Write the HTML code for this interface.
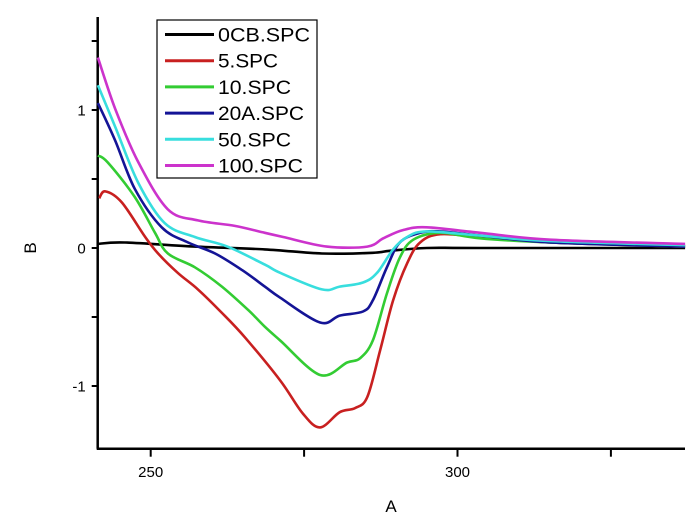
<!DOCTYPE html>
<html><head><meta charset="utf-8"><style>
html,body{margin:0;padding:0;background:#fff;}
svg{display:block;font-family:"Liberation Sans",Arial,sans-serif;}
</style></head><body>
<svg id="chart" width="691" height="523" viewBox="0 0 691 523" xmlns="http://www.w3.org/2000/svg">
<g id="axes"></g>
<g id="series"></g>
<g id="legend"></g>
</svg>
<script>
const seriesNames = ["0CB.SPC","5.SPC","10.SPC","20A.SPC","50.SPC","100.SPC"];
const seriesColors = ["#000000","#c82020","#33cc33","#141496","#38dede","#cc33cc"];
const xBlack = [241.4,245.8,257.2,268.6,277.9,286.2,289.0,295.0,303.7,337.1];
const yBlack = [0.03,0.04,0.01,-0.01,-0.04,-0.035,-0.02,0.0,0.0,0.0];
const xRed = [241.6,242.6,245.3,249.1,251.2,254.4,257.7,261.6,265.4,271.1,274.8,277.6,280.8,283.3,285.3,287.4,289.5,291.8,293.9,297.2,303.7,315.1,337.1];
const yRed = [0.36,0.41,0.33,0.08,-0.04,-0.18,-0.30,-0.47,-0.65,-0.96,-1.20,-1.30,-1.19,-1.16,-1.08,-0.74,-0.38,-0.11,0.04,0.10,0.08,0.04,0.01];
const xGreen = [241.4,243.0,247.4,250.7,252.8,257.2,261.6,265.9,268.6,271.1,277.6,282.0,284.1,286.2,288.5,290.6,292.8,297.2,303.7,315.1,337.1];
const yGreen = [0.67,0.62,0.37,0.11,-0.04,-0.14,-0.28,-0.45,-0.57,-0.67,-0.92,-0.83,-0.80,-0.67,-0.33,-0.07,0.06,0.11,0.07,0.04,0.01];
const xBlue = [241.4,244.2,247.4,251.8,256.1,260.5,264.9,268.6,271.1,277.6,280.8,284.6,286.2,288.5,290.6,293.9,297.2,303.7,315.1,337.1];
const yBlue = [1.05,0.78,0.43,0.15,0.04,-0.04,-0.16,-0.28,-0.36,-0.54,-0.49,-0.46,-0.38,-0.14,0.04,0.11,0.12,0.09,0.04,0.01];
const xCyan = [241.4,244.2,248.0,252.3,257.2,262.5,268.6,271.1,277.9,280.8,284.6,286.9,289.5,291.8,295.0,303.7,315.1,337.1];
const yCyan = [1.18,0.88,0.47,0.18,0.08,0.01,-0.12,-0.18,-0.30,-0.28,-0.25,-0.18,-0.01,0.08,0.12,0.09,0.05,0.02];
const xMag = [241.4,244.2,248.0,252.8,257.7,263.7,268.6,271.6,278.7,285.3,287.9,291.1,295.0,303.7,315.1,337.1];
const yMag = [1.38,1.01,0.62,0.28,0.20,0.16,0.11,0.08,0.01,0.01,0.07,0.13,0.15,0.11,0.06,0.03];
const xTicks = [250,275,300,325];
const xTickLabels = ["250","","300",""];
const yTicks = [-1,-0.5,0,0.5,1,1.5];
const yTickLabels = ["-1","","0","","1",""];

const NS="http://www.w3.org/2000/svg";
const X0=97.7, X1=685, Y0=448.7, YT=17;
function xs(v){return 150.7+(v-250)*6.136;}
function ys(v){return 248-v*138;}
function mk(t,a,p){const e=document.createElementNS(NS,t);for(const k in a)e.setAttribute(k,a[k]);p.appendChild(e);return e;}
const axes=document.getElementById('axes');
let e;
e=mk('line',{x1:X0,y1:YT,x2:X0,y2:Y0,stroke:'#000','stroke-width':2.5},axes);


e=mk('line',{x1:X0-1,y1:Y0,x2:X1,y2:Y0,stroke:'#000','stroke-width':2.5},axes);


xTicks.forEach((t,i)=>{
  const tk=mk('line',{x1:xs(t),y1:Y0,x2:xs(t),y2:Y0+8,stroke:'#000','stroke-width':2},axes);
  
  
  if(xTickLabels[i]){
    const tx=mk('text',{x:xs(t),y:477,'text-anchor':'middle','font-size':15,fill:'#000'},axes);
    tx.textContent=xTickLabels[i];
    
    
  }
});
yTicks.forEach((t,i)=>{
  const tk=mk('line',{x1:X0-6,y1:ys(t),x2:X0,y2:ys(t),stroke:'#000','stroke-width':2},axes);
  
  
  if(yTickLabels[i]){
    const tx=mk('text',{x:X0-12,y:ys(t)+5.5,'text-anchor':'end','font-size':15,fill:'#000'},axes);
    tx.textContent=yTickLabels[i];
    
    
  }
});
e=mk('text',{x:391,y:512,'text-anchor':'middle','font-size':17,fill:'#000'},axes);
e.textContent='A';


e=mk('text',{x:0,y:0,'text-anchor':'middle','font-size':17,fill:'#000',transform:'translate(36,248) rotate(-90)'},axes);
e.textContent='B';



function pathFrom(xa,ya){
  const p=xa.map((x,i)=>[xs(x),ys(ya[i])]);
  let d='M'+p[0][0].toFixed(1)+','+p[0][1].toFixed(1);
  for(let i=0;i<p.length-1;i++){
    const p0=p[Math.max(0,i-1)],p1=p[i],p2=p[i+1],p3=p[Math.min(p.length-1,i+2)];
    const c1=[p1[0]+(p2[0]-p0[0])/6,p1[1]+(p2[1]-p0[1])/6];
    const c2=[p2[0]-(p3[0]-p1[0])/6,p2[1]-(p3[1]-p1[1])/6];
    d+='C'+c1[0].toFixed(1)+','+c1[1].toFixed(1)+' '+c2[0].toFixed(1)+','+c2[1].toFixed(1)+' '+p2[0].toFixed(1)+','+p2[1].toFixed(1);
  }
  return d;
}
const allX=[xBlack,xRed,xGreen,xBlue,xCyan,xMag];
const allY=[yBlack,yRed,yGreen,yBlue,yCyan,yMag];
const sg=document.getElementById('series');
const names=['series-0cb','series-5','series-10','series-20a','series-50','series-100'];
[0,1,2,3,4,5].forEach(i=>{
  const pth=mk('path',{d:pathFrom(allX[i],allY[i]),fill:'none',stroke:seriesColors[i],'stroke-width':2.6,'stroke-linejoin':'round'},sg);
  
  
});
const legendWidths=[92,60,73,86,73,85];
const lg=document.getElementById('legend');
e=mk('rect',{x:157,y:20,width:160,height:158,fill:'#fff',stroke:'#000','stroke-width':1.2},lg);


seriesNames.forEach((n,i)=>{
  const y=34.5+i*26.2;
  const ln=mk('line',{x1:165,y1:y,x2:214,y2:y,stroke:seriesColors[i],'stroke-width':3},lg);
  
  
  const tx=mk('text',{x:218,y:y+7,'font-size':19.5,fill:'#000',textLength:legendWidths[i],lengthAdjust:'spacingAndGlyphs'},lg);
  tx.textContent=n;
  
  
});
</script>
</body></html>
